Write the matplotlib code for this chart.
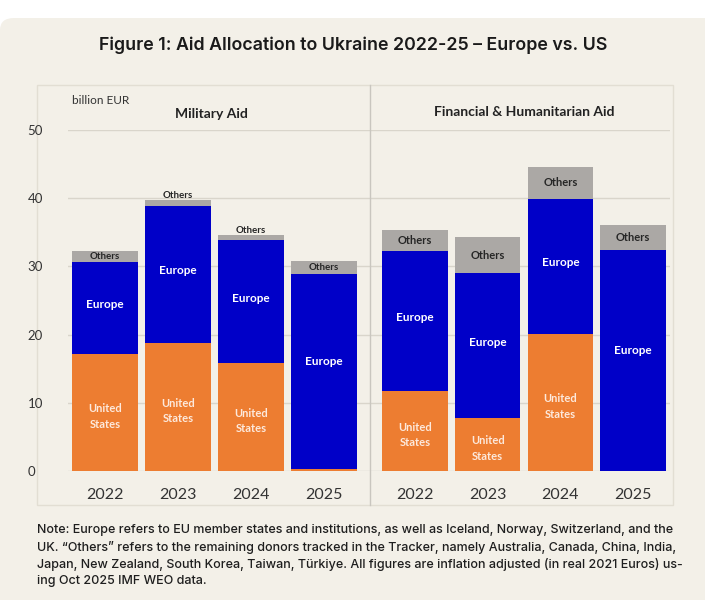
import numpy as np
import matplotlib.pyplot as plt
from matplotlib.patches import Rectangle, FancyBboxPatch
from matplotlib.lines import Line2D

years = ["2022", "2023", "2024", "2025"]

# billion EUR
mil_us = [17.2, 18.8, 15.8, 0.3]
mil_europe = [13.4, 20.1, 18.1, 28.6]
mil_others = [1.7, 0.8, 0.7, 1.9]

fin_us = [11.8, 7.8, 20.1, 0.0]
fin_europe = [20.5, 21.2, 19.8, 32.4]
fin_others = [3.0, 5.3, 4.7, 3.7]

ORANGE = "#ed7d31"
BLUE = "#0000c8"
GREY = "#aba8a5"
BG = "#f3f0e8"

fig = plt.figure(figsize=(7.05, 6), dpi=100)
fig.patch.set_facecolor("white")
card = FancyBboxPatch((0.0, -0.05), 1.05, 1.02, boxstyle="round,pad=0,rounding_size=0.02",
                      transform=fig.transFigure, facecolor=BG, edgecolor="none", zorder=-10)
fig.patches.append(card)

# outer panel box + divider
fig.patches.append(Rectangle((37 / 705, 95 / 600), 636 / 705, 420 / 600, transform=fig.transFigure,
                             facecolor="none", edgecolor="#e2ded3", lw=1, zorder=-5))
fig.lines.append(Line2D([370 / 705, 370 / 705], [95 / 600, 515 / 600], transform=fig.transFigure,
                        color="#c9c6bf", lw=1))

ax1 = fig.add_axes([68 / 705, 129 / 600, 302 / 705, 341 / 600])
ax2 = fig.add_axes([370 / 705, 129 / 600, 300 / 705, 341 / 600], sharey=ax1)

FONT = "Lato"


def draw(ax, us, eu, oth, xlim, other_size):
    x = np.arange(len(years))
    us = np.array(us)
    eu = np.array(eu)
    oth = np.array(oth)
    ax.bar(x, us, width=0.9, color=ORANGE, zorder=3)
    ax.bar(x, eu, width=0.9, bottom=us, color=BLUE, zorder=3)
    ax.bar(x, oth, width=0.9, bottom=us + eu, color=GREY, zorder=3)
    for i in range(len(x)):
        if us[i] > 3:
            ax.text(x[i], us[i] / 2 - 0.6, "United\nStates", ha="center", va="center", color="#fde9dc",
                    fontsize=8, fontweight="bold", family=FONT, linespacing=1.5, zorder=4)
        ax.text(x[i], us[i] + eu[i] / 2 + (0.5 if us[i] > 3 else 1.5), "Europe", ha="center",
                va="center", color="white", fontsize=8.5, fontweight="bold", family=FONT, zorder=4)
        top = us[i] + eu[i] + oth[i]
        if oth[i] < 1.2:
            yy = top + 0.7
        else:
            yy = top - oth[i] / 2
        ax.text(x[i], yy, "Others", ha="center", va="center", color="#262626",
                fontsize=other_size, fontweight="bold", family=FONT, zorder=4)
    ax.set_xlim(*xlim)
    ax.set_ylim(0, 50)
    ax.set_xticks(x)
    ax.set_xticklabels(years, fontsize=11.5, color="#333333", family=FONT)
    ax.tick_params(axis="x", length=0, pad=12)
    ax.set_yticks(range(0, 51, 10))
    ax.grid(axis="y", color="#d9d5cb", lw=1, zorder=0)
    ax.set_facecolor("none")
    for s in ax.spines.values():
        s.set_visible(False)


draw(ax1, mil_us, mil_europe, mil_others, (-0.51, 3.63), 7)
draw(ax2, fin_us, fin_europe, fin_others, (-0.62, 3.51), 8)

ax1.tick_params(axis="y", length=0, labelsize=9.5, labelcolor="#333333")
for t in ax1.get_yticklabels():
    t.set_family(FONT)
    t.set_horizontalalignment("left")
ax1.tick_params(axis="y", pad=29)
ax2.tick_params(axis="y", left=False, labelleft=False)

fig.text(72 / 705, 1 - 101 / 600, "billion EUR", fontsize=8.5, family=FONT, color="#333333", va="center")
fig.text(211 / 705, 1 - 114 / 600, "Military Aid", fontsize=10, fontweight="bold", family=FONT,
         color="#222222", ha="center", va="center")
fig.text(524 / 705, 1 - 112 / 600, "Financial & Humanitarian Aid", fontsize=10, fontweight="bold",
         family=FONT, color="#222222", ha="center", va="center")

fig.text(353 / 705, 1 - 45 / 600, "Figure 1: Aid Allocation to Ukraine 2022-25 \u2013 Europe vs. US",
         fontsize=12.8, fontweight="semibold", family="Inter", color="#1a1a1a", ha="center", va="center")

note = ("Note: Europe refers to EU member states and institutions, as well as Iceland, Norway, Switzerland, and the\n"
        "UK. \u201cOthers\u201d refers to the remaining donors tracked in the Tracker, namely Australia, Canada, China, India,\n"
        "Japan, New Zealand, South Korea, Taiwan, T\u00fcrkiye. All figures are inflation adjusted (in real 2021 Euros) us-\n"
        "ing Oct 2025 IMF WEO data.")
fig.text(37 / 705, 1 - 524 / 600, note, fontsize=9.0, fontweight="medium", family="Inter", color="#1e1e1e",
         ha="left", va="top", linespacing=1.45)

fig.savefig("out.png", dpi=100, facecolor=fig.get_facecolor())
